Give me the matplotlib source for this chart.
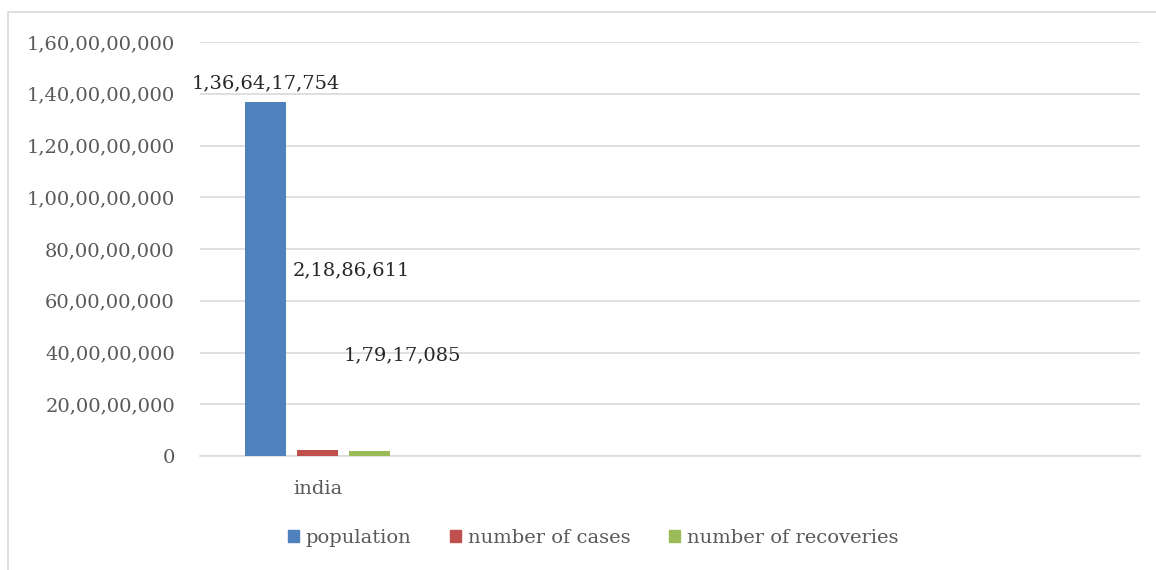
import matplotlib.pyplot as plt
import matplotlib.patches as mpatches
import numpy as np

categories = ["india", "", "", ""]
series_names = ["population", "number of cases", "number of recoveries"]
population = [1366417754, 0, 0, 0]
cases = [21886611, 0, 0, 0]
recoveries = [17917085, 0, 0, 0]
yticks = np.arange(0, 1600000001, 200000000)

colors = ["#4F81BD", "#C0504D", "#9BBB59"]


def indian(n):
    s = str(int(n))
    if len(s) <= 3:
        return s
    head, tail = s[:-3], s[-3:]
    parts = []
    while len(head) > 2:
        parts.insert(0, head[-2:])
        head = head[:-2]
    if head:
        parts.insert(0, head)
    return ",".join(parts + [tail])


plt.rcParams["font.family"] = ["DejaVu Serif"]
fs = 14

fig = plt.figure(figsize=(11.56, 5.70), dpi=100)
ax = fig.add_axes([200 / 1156, 1 - 456 / 570, 940 / 1156, 414 / 570])

x = np.arange(len(categories))
w = 0.175
offs = [-0.221, 0, 0.221]
data = [population, cases, recoveries]
# only the first category holds data
for d, o, c, name in zip(data, offs, colors, series_names):
    ax.bar(x[:1] + o, d[:1], width=w, color=c, label=name, zorder=3)

ax.set_xlim(-0.5, 3.5)
ax.set_ylim(0, 1600000000)
ax.set_yticks(yticks)
ax.set_yticklabels([indian(v) for v in yticks])
ax.set_xticks([0])
ax.set_xticklabels(["india"])
ax.tick_params(axis="both", length=0, labelsize=fs, colors="#595959")
ax.tick_params(axis="y", pad=18)
ax.tick_params(axis="x", pad=17)
ax.grid(axis="y", color="#d9d9d9", linewidth=1.2, zorder=0)
for s in ["top", "right", "left"]:
    ax.spines[s].set_visible(False)
ax.spines["bottom"].set_color("#d9d9d9")
ax.spines["bottom"].set_linewidth(1.2)

# data labels, placed where the reference puts them
ax.text(x[0] + offs[0], population[0] + 74000000, indian(population[0]),
        ha="center", va="center", fontsize=fs, color="#262626")
ax.text(x[0] + 0.145, 719000000, indian(cases[0]),
        ha="center", va="center", fontsize=fs, color="#262626")
ax.text(x[0] + 0.36, 390000000, indian(recoveries[0]),
        ha="center", va="center", fontsize=fs, color="#262626")

handles = [mpatches.Patch(color=c) for c in colors]
fig.legend(handles, series_names, loc="center", bbox_to_anchor=(593 / 1156, 1 - 538 / 570),
           ncol=3, frameon=False, fontsize=fs, handlelength=0.55, handleheight=0.55,
           handletextpad=0.35, columnspacing=2.0, labelcolor="#595959")

border = mpatches.Rectangle((8 / 1156, -0.1), 1.2, 1 - 12 / 570 + 0.1,
                            transform=fig.transFigure, fill=False,
                            edgecolor="#d9d9d9", linewidth=1.2)
fig.patches.append(border)

fig.savefig("out.png", dpi=100)
